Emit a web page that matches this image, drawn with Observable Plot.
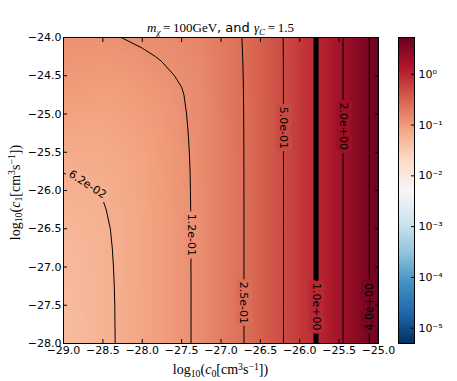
<!DOCTYPE html>
<html><head><meta charset="utf-8">
<script src="https://cdn.jsdelivr.net/npm/d3@7"></script>
<script src="https://cdn.jsdelivr.net/npm/@observablehq/plot@0.6"></script>
<style>
body{margin:0;background:#fff;}
#fig{position:relative;width:457px;height:381px;overflow:hidden;font-family:"DejaVu Sans",sans-serif;color:#000;}
#fig svg{position:absolute;top:0;}
.lbl{position:absolute;white-space:nowrap;line-height:1;}
.math{font-family:"Liberation Serif",serif;}
.lbl sub{font-size:0.7em;vertical-align:-0.3em;line-height:0;}
.lbl sup{font-size:0.7em;vertical-align:0.45em;line-height:0;}
</style></head><body><div id="fig"></div>
<script>
// grid coordinates
const xValues = [-29, -28.75, -28.5, -28.25, -28, -27.75, -27.5, -27.25, -27, -26.75, -26.5, -26.25, -26, -25.75, -25.5, -25.25, -25];
const yValues = [-24, -24.25, -24.5, -24.75, -25, -25.25, -25.5, -25.75, -26, -26.25, -26.5, -26.75, -27, -27.25, -27.5, -27.75, -28];
// field values, one row per yValues entry (top to bottom), columns follow xValues
const zRows = [
  [0.1176, 0.1191, 0.1195, 0.1255, 0.1310, 0.1360, 0.1448, 0.1596, 0.1975, 0.2447, 0.3321, 0.4647, 0.6879, 1.064, 1.765, 2.949, 4.925],
  [0.1096, 0.1101, 0.1102, 0.1113, 0.1202, 0.1273, 0.1367, 0.1517, 0.1910, 0.2412, 0.3294, 0.4629, 0.6879, 1.064, 1.765, 2.949, 4.925],
  [0.1025, 0.1013, 0.0999, 0.1013, 0.1100, 0.1188, 0.1285, 0.1460, 0.1879, 0.2387, 0.3278, 0.4618, 0.6879, 1.064, 1.765, 2.949, 4.925],
  [0.0938, 0.0936, 0.0902, 0.0933, 0.1010, 0.1103, 0.1227, 0.1422, 0.1855, 0.2372, 0.3269, 0.4612, 0.6879, 1.064, 1.765, 2.949, 4.925],
  [0.0865, 0.0837, 0.0828, 0.0870, 0.0953, 0.1048, 0.1198, 0.1405, 0.1840, 0.2363, 0.3263, 0.4608, 0.6879, 1.064, 1.765, 2.949, 4.925],
  [0.0784, 0.0761, 0.0766, 0.0822, 0.0896, 0.1008, 0.1179, 0.1392, 0.1831, 0.2358, 0.3259, 0.4605, 0.6879, 1.064, 1.765, 2.949, 4.925],
  [0.0690, 0.0702, 0.0719, 0.0770, 0.0860, 0.0986, 0.1164, 0.1384, 0.1826, 0.2354, 0.3257, 0.4603, 0.6879, 1.064, 1.765, 2.949, 4.925],
  [0.0628, 0.0654, 0.0678, 0.0732, 0.0831, 0.0972, 0.1154, 0.1378, 0.1822, 0.2352, 0.3255, 0.4602, 0.6879, 1.064, 1.765, 2.949, 4.925],
  [0.0585, 0.0618, 0.0638, 0.0704, 0.0818, 0.0962, 0.1149, 0.1375, 0.1821, 0.2351, 0.3254, 0.4601, 0.6879, 1.064, 1.765, 2.949, 4.925],
  [0.0552, 0.0579, 0.0612, 0.0689, 0.0808, 0.0956, 0.1145, 0.1373, 0.1820, 0.2350, 0.3253, 0.4601, 0.6879, 1.064, 1.765, 2.949, 4.925],
  [0.0525, 0.0550, 0.0592, 0.0679, 0.0801, 0.0953, 0.1143, 0.1372, 0.1819, 0.2350, 0.3253, 0.4601, 0.6879, 1.064, 1.765, 2.949, 4.925],
  [0.0498, 0.0529, 0.0582, 0.0672, 0.0797, 0.0950, 0.1142, 0.1371, 0.1818, 0.2349, 0.3253, 0.4601, 0.6879, 1.064, 1.765, 2.949, 4.925],
  [0.0478, 0.0518, 0.0575, 0.0668, 0.0795, 0.0949, 0.1141, 0.1371, 0.1818, 0.2349, 0.3253, 0.4601, 0.6879, 1.064, 1.765, 2.949, 4.925],
  [0.0465, 0.0510, 0.0570, 0.0665, 0.0793, 0.0948, 0.1140, 0.1370, 0.1817, 0.2349, 0.3253, 0.4601, 0.6879, 1.064, 1.765, 2.949, 4.925],
  [0.0457, 0.0505, 0.0567, 0.0663, 0.0792, 0.0948, 0.1140, 0.1370, 0.1817, 0.2349, 0.3253, 0.4601, 0.6879, 1.064, 1.765, 2.949, 4.925],
  [0.0451, 0.0502, 0.0566, 0.0662, 0.0791, 0.0947, 0.1140, 0.1370, 0.1817, 0.2349, 0.3253, 0.4601, 0.6879, 1.064, 1.765, 2.949, 4.925],
  [0.0448, 0.0500, 0.0565, 0.0661, 0.0791, 0.0947, 0.1140, 0.1370, 0.1817, 0.2349, 0.3253, 0.4601, 0.6879, 1.064, 1.765, 2.949, 4.925]
];
// contour levels and their inline labels
const thinLevels = [0.0625, 0.125, 0.25, 0.5, 2, 4];
const thickLevels = [1];
const labelText = ["6.2e-02", "1.2e-01", "2.5e-01", "5.0e-01", "1.0e+00", "2.0e+00", "4.0e+00"];
const labelLevel = [0.0625, 0.125, 0.25, 0.5, 1, 2, 4];
const labelX = [-28.695, -27.38, -26.71, -26.21, -25.79, -25.45, -25.12];
const labelY = [-25.92, -26.58, -27.47, -25.18, -27.52, -25.16, -27.52];
const labelAngle = [33, 90, 90, 90, 90, 90, -90];
// ticks
const xTicks = [-29, -28.5, -28, -27.5, -27, -26.5, -26, -25.5, -25];
const yTicks = [-28, -27.5, -27, -26.5, -26, -25.5, -25, -24.5, -24];
const cbarTicks = [1e-5, 1e-4, 1e-3, 1e-2, 1e-1, 1];
const colorDomain = [5e-6, 5.3];
const rdbuR = ["#053061", "#2166ac", "#4393c3", "#92c5de", "#d1e5f0", "#f7f7f7", "#fddbc7", "#f4a582", "#d6604d", "#b2182b", "#67001f"];

const nx = xValues.length, ny = yValues.length;
const dx = xValues[1] - xValues[0], dy = yValues[0] - yValues[1];
const grid = {width: nx, height: ny,
  x1: xValues[0] - dx / 2, x2: xValues[nx - 1] + dx / 2,
  y1: yValues[0] + dy / 2, y2: yValues[ny - 1] - dy / 2};
const zFlat = zRows.flat();
const labels = labelText.map((t, i) => ({text: t, level: labelLevel[i], x: labelX[i], y: labelY[i], angle: labelAngle[i]}));

const colorOpts = {type: "log", domain: colorDomain, interpolate: d3.piecewise(d3.interpolateRgb, rdbuR), clamp: true};
const fmt1 = d3.format(".1f");
const style = {fontFamily: "DejaVu Sans", fontSize: "11px", color: "black", background: "none", overflow: "visible"};

const main = Plot.plot({
  width: 457, height: 381,
  marginLeft: 63, marginRight: 79, marginTop: 37, marginBottom: 38,
  style,
  x: {domain: [-29, -25], label: null},
  y: {domain: [-28, -24], label: null},
  color: colorOpts,
  marks: [
    Plot.raster(zFlat, {...grid, imageRendering: "auto", clip: true}),
    Plot.contour(zFlat, {...grid, thresholds: thinLevels, stroke: "black", fill: "none", strokeWidth: 1, clip: true}),
    Plot.contour(zFlat, {...grid, thresholds: thickLevels, stroke: "black", fill: "none", strokeWidth: 5, clip: true}),
    Plot.text(labels, {x: "x", y: "y", text: "text", rotate: "angle", fill: "black", stroke: "level", strokeWidth: 8, strokeLinejoin: "round", fontSize: 11, fontFamily: "DejaVu Sans"}),
    Plot.frame({stroke: "black"}),
    Plot.axisX({anchor: "bottom", ticks: xTicks, tickSize: 0, tickPadding: 3, tickFormat: fmt1, label: null}),
    Plot.axisX({anchor: "bottom", ticks: xTicks, tickSize: -4, fill: "none", label: null}),
    Plot.axisX({anchor: "top", ticks: xTicks, tickSize: -4, fill: "none", label: null}),
    Plot.axisY({anchor: "left", ticks: yTicks, tickSize: 0, tickPadding: 2, tickFormat: fmt1, label: null}),
    Plot.axisY({anchor: "left", ticks: yTicks, tickSize: -4, fill: "none", label: null}),
    Plot.axisY({anchor: "right", ticks: yTicks, tickSize: -4, fill: "none", label: null})
  ]
});

const supMap = {"-": "\u207B", "0": "\u2070", "1": "\u00B9", "2": "\u00B2", "3": "\u00B3", "4": "\u2074", "5": "\u2075", "6": "\u2076", "7": "\u2077", "8": "\u2078", "9": "\u2079"};
const sup = s => String(s).split("").map(c => supMap[c]).join("");
const cbar = Plot.plot({
  width: 70, height: 381,
  marginLeft: 8, marginRight: 46, marginTop: 37, marginBottom: 38,
  style,
  x: {domain: [0, 1], axis: null},
  y: {type: "log", domain: colorDomain, axis: null},
  color: colorOpts,
  marks: [
    Plot.raster({x1: 0, x2: 1, y1: colorDomain[0], y2: colorDomain[1], fill: (x, y) => y, pixelSize: 1}),
    Plot.frame({stroke: "black"}),
    Plot.axisY({anchor: "right", ticks: cbarTicks, tickSize: 0, tickPadding: 4, tickFormat: d => "10" + sup(Math.round(Math.log10(d))), label: null}),
    Plot.axisY({anchor: "right", ticks: cbarTicks, tickSize: -4, fill: "none", label: null})
  ]
});
cbar.style.left = "390px";
main.style.left = "0px";

const fig = document.getElementById("fig");
fig.appendChild(main);
fig.appendChild(cbar);

function addLabel(html, css) {
  const d = document.createElement("div");
  d.className = "lbl";
  d.innerHTML = html;
  Object.assign(d.style, css);
  fig.appendChild(d);
  return d;
}
addLabel('<span class="math"><i>m</i><sub><i>χ</i></sub>\u2009=\u2009100GeV</span>, and <span class="math"><i>γ</i><sub><i>C</i></sub>\u2009=\u20091.5</span>',
  {left: "0px", width: "441px", top: "21px", textAlign: "center", fontSize: "13px"});
addLabel('<span class="math">log<sub>10</sub>(<i>c</i><sub>0</sub>[cm<sup>3</sup>s<sup>\u22121</sup>])</span>',
  {left: "0px", width: "441px", top: "362px", textAlign: "center", fontSize: "14px"});
addLabel('<span class="math">log<sub>10</sub>(<i>c</i><sub>1</sub>[cm<sup>3</sup>s<sup>\u22121</sup>])</span>',
  {left: "-135px", width: "300px", top: "185px", textAlign: "center", fontSize: "14px", transform: "rotate(-90deg)"});
</script></body></html>
